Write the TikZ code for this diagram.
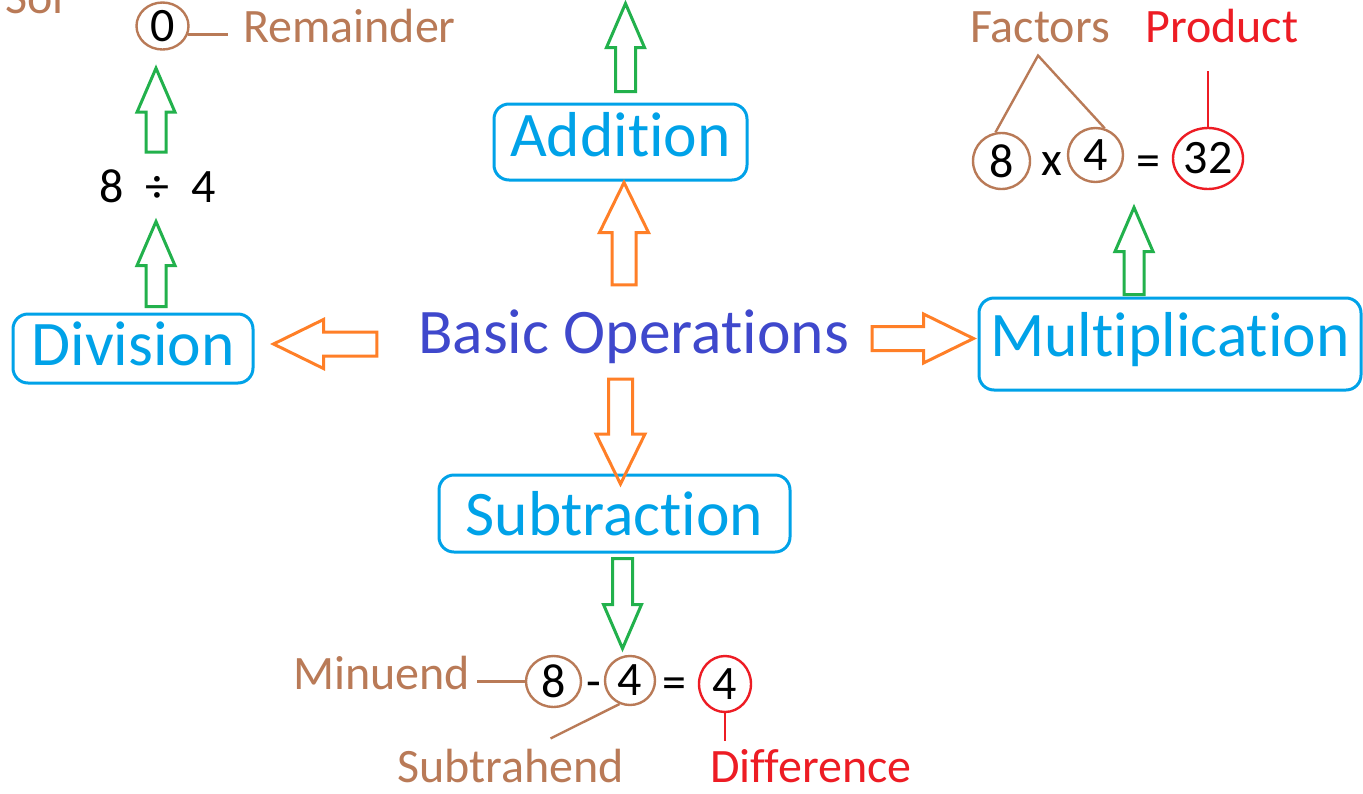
\documentclass[tikz,border=0pt]{standalone}
\usepackage{fontspec}
\setmainfont{Carlito}[Ligatures=NoCommon]
\usepackage{tikz}
\usetikzlibrary{calc,shapes.geometric}
\definecolor{opcyan}{HTML}{00A2E8}
\definecolor{opblue}{HTML}{3F48CC}
\definecolor{oporange}{HTML}{FF7F27}
\definecolor{opgreen}{HTML}{22B14C}
\definecolor{opbrown}{HTML}{B97A57}
\definecolor{opred}{HTML}{ED1C24}
\newcommand{\opfont}[0]{\fontsize{63.5}{70}\selectfont}
\newcommand{\labfont}[0]{\fontsize{48}{56}\selectfont}

\begin{document}
\begin{tikzpicture}[x=1pt,y=-1pt,
  op box/.style={draw=opcyan,text=opcyan,line width=3pt,rounded corners=15pt,
    font=\opfont,inner sep=0pt,text height=44pt},
  num/.style={ellipse,draw=opbrown,line width=2.4pt,inner sep=0pt,font=\labfont},
  lab/.style={font=\labfont,inner sep=0pt,anchor=base west},
  sign/.style={font=\labfont,inner sep=0pt,anchor=base},
  tie/.style={line width=2.4pt},
  block arrow/.style args={#1/#2/#3}{line width=3pt,to path={
    let \p1=(\tikztostart), \p2=(\tikztotarget), \p3=($(\p2)!#3!(\p1)$) in
    ($(\p1)!#1!90:(\p2)$) -- ($(\p3)!#1!90:(\p2)$) -- ($(\p3)!#2!90:(\p2)$) -- (\p2)
    -- ($(\p3)!#2!-90:(\p2)$) -- ($(\p3)!#1!-90:(\p2)$) -- ($(\p1)!#1!-90:(\p2)$) -- cycle}},
  green arrow/.style={draw=opgreen,block arrow=10pt/19pt/44pt},
  orange arrow/.style={draw=oporange,block arrow=12pt/24.5pt/50pt}]

  \fill[white] (0,0) rectangle (1363,793);
  \useasboundingbox (0,0) rectangle (1363,793);

  % centre and the four operations
  \node[font=\opfont,text=opblue,inner sep=0pt,minimum width=513pt,
    minimum height=94pt,text height=46pt,text depth=4pt] (basic) at (633.5,332)
    {Basic Operations};
  \node[op box,minimum width=253pt,minimum height=76pt,text depth=16pt] (add)
    at (620.5,142) {Addition};
  \node[op box,minimum width=351pt,minimum height=77pt,text depth=1pt] (sub)
    at (614.5,513.5) {Subtraction};
  \node[op box,minimum width=240pt,minimum height=69pt,text depth=11pt] (div)
    at (133,348.5) {Division};
  \node[op box,minimum width=382pt,minimum height=92pt,text depth=20pt] (mult)
    at (1170,344) {Multiplication};

  % numbers
  \node[num,minimum width=52pt,minimum height=47pt] (rem) at (162.5,26) {0};
  \node[num,minimum width=57pt,minimum height=56pt] (f8) at (1001.5,161) {8};
  \node[num,minimum width=55pt,minimum height=54pt] (f4) at (1095.5,155) {4};
  \node[num,draw=opred,minimum width=70pt,minimum height=61pt] (prod)
    at (1208,158.5) {32};
  \node[num,minimum width=55pt,minimum height=51pt] (m8) at (553.5,681.5) {8};
  \node[num,minimum width=50pt,minimum height=49pt] (m4) at (630,680.5) {4};
  \node[num,draw=opred,minimum width=52pt,minimum height=56pt] (diff)
    at (725,684) {4};

  \node[sign] (divexpr) at (157.5,202) {8~~÷~~4};
  \node[sign] (times) at (1052,175) {x};
  \node[sign] (eqa) at (1148.5,176) {=};
  \node[sign] (minus) at (594,697) {-};
  \node[sign] (eqb) at (674,698) {=};

  % names of the parts
  \node[lab,text=opbrown] (sol) at (5,13) {Sol};
  \node[lab,text=opbrown] (remtxt) at (243,42) {Remainder};
  \node[lab,text=opbrown] (factxt) at (970,42) {Factors};
  \node[lab,text=opred] (prodtxt) at (1145,42) {Product};
  \node[lab,text=opbrown] (mintxt) at (293,689) {Minuend};
  \node[lab,text=opbrown] (subtxt) at (397,782) {Subtrahend};
  \node[lab,text=opred] (difftxt) at (710,782) {Difference};

  \draw[tie,opbrown] (rem.-18) -- ($(remtxt.west |- rem.-18)+(-15,0)$);
  \draw[tie,opbrown] (f8.102) -- ($(factxt.south)+(-2,13)$) -- (f4.71);
  \draw[tie,opred] (prod.north) -- ($(prod.north |- prodtxt.south)+(0,28)$);
  \draw[tie,opbrown] (m8.west) -- ($(mintxt.east |- m8.west)+(7,0)$);
  \draw[tie,opbrown] (m4.-114) -- ($(subtxt.north)+(40,-10)$);
  \draw[tie,opred] (diff.south) -- ($(diff.south |- difftxt.north)+(0,-8)$);

  \path[orange arrow]
    ($(basic.north)+(-9.5,0)$) edge ($(add.south)+(3.5,1)$)
    ($(basic.south)+(-13,0)$) edge ($(sub.north)+(6,10.5)$)
    ($(basic.west)+(0,12)$) edge ($(div.east)+(19,-4.5)$)
    ($(basic.east)+(-18,6.5)$) edge ($(mult.west)+(-4,-5.5)$);

  \path[green arrow]
    ($(div.north)+(23,-6)$) edge ($(divexpr.south)+(-1.5,19)$)
    ($(divexpr.north)+(-1.5,-17)$) edge ($(rem.south)+(-6.5,17.5)$)
    ($(add.north)+(5,-11)$) edge ($(add.north)+(5,-99)$)
    ($(mult.north)+(-36,-2)$) edge ($(mult.north)+(-36,-89)$)
    ($(sub.south)+(8,5)$) edge ($(sub.south)+(8,95)$);

\end{tikzpicture}
\end{document}
